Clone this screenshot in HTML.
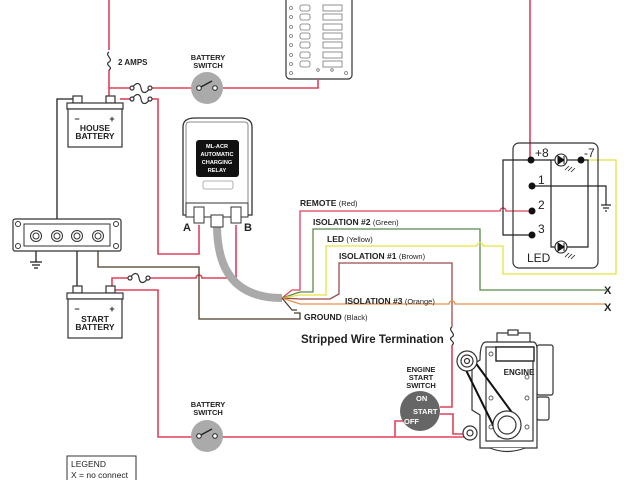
<!DOCTYPE html>
<html><head><meta charset="utf-8"><style>
html,body{margin:0;padding:0;background:#fff;width:640px;height:480px;overflow:hidden}
svg{display:block}
text{font-family:"Liberation Sans",Arial,sans-serif}
</style></head><body>
<svg width="640" height="480" viewBox="0 0 640 480" xmlns="http://www.w3.org/2000/svg">
<g fill="none" stroke-width="1.6">
<rect x="286" y="-6" width="66" height="85" rx="4" fill="#fff" stroke="#333" stroke-width="1.2"/>
<g stroke="#777" stroke-width="0.8">
<circle cx="291" cy="8" r="1.5"/><circle cx="291" cy="17" r="1.5"/><circle cx="291" cy="27" r="1.5"/><circle cx="291" cy="36" r="1.5"/><circle cx="291" cy="45" r="1.5"/><circle cx="291" cy="55" r="1.5"/><circle cx="291" cy="64" r="1.5"/><circle cx="291" cy="73" r="1.5"/>
<rect x="300" y="5" width="10" height="6" rx="2"/><rect x="300" y="14" width="10" height="6" rx="2"/><rect x="300" y="24" width="10" height="6" rx="2"/><rect x="300" y="33" width="10" height="6" rx="2"/><rect x="300" y="42" width="10" height="6" rx="2"/><rect x="300" y="52" width="10" height="6" rx="2"/><rect x="300" y="61" width="10" height="6" rx="2"/>
<rect x="323" y="5" width="19" height="6"/><rect x="323" y="14" width="19" height="6"/><rect x="323" y="24" width="19" height="6"/><rect x="323" y="33" width="19" height="6"/><rect x="323" y="42" width="19" height="6"/><rect x="323" y="52" width="19" height="6"/><rect x="323" y="61" width="19" height="6"/>
<circle cx="318" cy="70" r="1.3"/><circle cx="332" cy="70" r="1.3"/><circle cx="346" cy="73" r="1.5"/>
</g>
<g stroke="#e0405a">
<polyline points="109,0 109,50"/><polyline points="109,70 109,100"/>
<polyline points="109,88 132,88"/><polyline points="150,88 200,88"/>
<polyline points="215,88 318,88 318,79"/>
<polyline points="120,99 132,99"/><polyline points="150,99 158,99 158,254 199,254 199,225"/>
<polyline points="530,0 530,160"/>
<polyline points="112,290 112,278 128,278"/>
<path d="M148,278 H196 a3,3 0 0 1 6,0 H236 V225"/>
<polyline points="113,290 158,290 158,437 199,437"/><polyline points="215,437 470,437"/>
<polyline points="395,437 395,421 403,421"/>
<polyline points="440,414 453,414 453,434 468,434"/>
<polyline points="440,407 452,407 452,345"/>
</g>
<g stroke="#333" stroke-width="1.2">
<path d="M109,52 c-5,3 5,7 0,10 c-5,3 5,5 0,8"/>
<path d="M132,88 c4,-6 8,-6 9,0 c1,6 5,6 9,0"/><circle cx="132" cy="88" r="2" fill="#fff"/><circle cx="150" cy="88" r="2" fill="#fff"/>
<path d="M132,99 c4,-6 8,-6 9,0 c1,6 5,6 9,0"/><circle cx="132" cy="99" r="2" fill="#fff"/><circle cx="150" cy="99" r="2" fill="#fff"/>
<path d="M130,278 c4,-6 8,-6 9,0 c1,6 5,6 9,0"/><circle cx="130" cy="278" r="2" fill="#fff"/><circle cx="148" cy="278" r="2" fill="#fff"/>
<path d="M452,327 c-5,3 5,7 0,10 c-5,3 5,5 0,8"/>
</g>
<circle cx="207" cy="88" r="16" fill="#aaa" stroke="none"/>
<line x1="199" y1="88" x2="212" y2="81" stroke="#222" stroke-width="1.3"/>
<circle cx="199" cy="88" r="2.3" fill="#fff" stroke="#222" stroke-width="1"/><circle cx="215" cy="88" r="2.3" fill="#fff" stroke="#222" stroke-width="1"/>
<circle cx="207" cy="436" r="16" fill="#aaa" stroke="none"/>
<line x1="199" y1="436" x2="212" y2="429" stroke="#222" stroke-width="1.3"/>
<circle cx="199" cy="436" r="2.3" fill="#fff" stroke="#222" stroke-width="1"/><circle cx="215" cy="436" r="2.3" fill="#fff" stroke="#222" stroke-width="1"/>
<g stroke="#222" stroke-width="1.3">
<polyline points="75,99 57,99 57,236"/>
<polyline points="36,244 36,262"/>
<line x1="30" y1="262" x2="42" y2="262"/><line x1="32" y1="265" x2="40" y2="265"/><line x1="34" y1="268" x2="38" y2="268"/>
<polyline points="77,244 77,287"/>
</g>
<polyline points="98,244 98,267 199,267 199,319 300,319 300,313 294,313" stroke="#4a3a2a" stroke-width="1.3"/>
<g stroke="#333" stroke-width="1.2" fill="#fff">
<rect x="73" y="96" width="9" height="7"/><rect x="106" y="96" width="9" height="7"/>
<rect x="67" y="103" width="56" height="6"/><rect x="68" y="109" width="54" height="38"/>
<rect x="73" y="286" width="9" height="7"/><rect x="106" y="286" width="9" height="7"/>
<rect x="67" y="293" width="56" height="6"/><rect x="68" y="299" width="54" height="39"/>
</g>
<g fill="#222" font-weight="bold" font-size="8.5" text-anchor="middle" stroke="none">
<text x="77" y="122" font-size="9">−</text><text x="112" y="122" font-size="9">+</text>
<text x="95" y="131">HOUSE</text><text x="95" y="139">BATTERY</text>
<text x="77" y="312" font-size="9">−</text><text x="112" y="312" font-size="9">+</text>
<text x="95" y="322">START</text><text x="95" y="330">BATTERY</text>
</g>
<rect x="13" y="219" width="108" height="32" rx="2" fill="#fff" stroke="#333" stroke-width="1.2"/>
<rect x="24" y="224" width="86" height="22" fill="none" stroke="#333" stroke-width="1"/>
<g stroke="#333" stroke-width="1" fill="#fff">
<circle cx="18" cy="224" r="2.5"/><circle cx="116" cy="224" r="2.5"/><circle cx="18" cy="246" r="2.5"/><circle cx="116" cy="246" r="2.5"/>
<circle cx="36" cy="236" r="5.5"/><circle cx="57" cy="236" r="5.5"/><circle cx="77" cy="236" r="5.5"/><circle cx="98" cy="236" r="5.5"/>
<circle cx="36" cy="236" r="3"/><circle cx="57" cy="236" r="3"/><circle cx="77" cy="236" r="3"/><circle cx="98" cy="236" r="3"/>
</g>
<path d="M217,225 C217,270 235,298 282,298" stroke="#aaa" stroke-width="8"/>
<path d="M183,127 Q183,118 195,118 L240,118 Q252,118 252,127 L252,215 L183,215 Z" fill="#fff" stroke="#333" stroke-width="1.3"/>
<rect x="186" y="122" width="62" height="88" rx="3" stroke="#666" stroke-width="0.8"/>
<rect x="196" y="140" width="43" height="37" rx="3" fill="#111" stroke="none"/>
<rect x="203" y="181" width="30" height="8" rx="2" stroke="#999" stroke-width="0.8"/>
<rect x="186" y="203" width="62" height="14" fill="#fff" stroke="#333" stroke-width="1"/>
<rect x="194" y="207" width="10" height="16" fill="#fff" stroke="#333" stroke-width="1"/>
<rect x="231" y="207" width="10" height="16" fill="#fff" stroke="#333" stroke-width="1"/>
<rect x="211" y="215" width="12" height="12" fill="#fff" stroke="#333" stroke-width="1"/>
<g fill="#fff" font-weight="bold" font-size="5.6" text-anchor="middle">
<text x="217" y="148">ML-ACR</text><text x="217" y="156">AUTOMATIC</text><text x="217" y="164">CHARGING</text><text x="217" y="172">RELAY</text>
</g>
<text x="187" y="231" font-size="11" font-weight="bold" text-anchor="middle" fill="#222">A</text>
<text x="248" y="231" font-size="11" font-weight="bold" text-anchor="middle" fill="#222">B</text>
<path d="M282,298 L292,290 H300 V211 H500 a3,3 0 0 1 6,0 H532" stroke="#e0405a" stroke-width="1.3"/>
<path d="M282,298 L300,292 H313 V229 H480 V290 H606" stroke="#5a8a4a" stroke-width="1.3"/>
<path d="M282,298 L300,295 H326 V246 H477 a3,3 0 0 1 6,0 H503 V274 H616 V160 H586" stroke="#e8e040" stroke-width="1.3"/>
<path d="M282,298 L300,299 H330 L339,294 V263 H452 V327" stroke="#9a4a4a" stroke-width="1.3"/>
<path d="M282,298 L300,304 H449 a3,3 0 0 1 6,0 H606" stroke="#e8904a" stroke-width="1.3"/>
<path d="M282,298 L292,310 H297" stroke="#4a3a2a" stroke-width="1.2"/>
<text x="604" y="294" font-size="11" font-weight="bold" fill="#222" stroke="none">X</text>
<text x="604" y="311" font-size="11" font-weight="bold" fill="#222" stroke="none">X</text>
<rect x="513" y="143" width="85" height="125" rx="6" fill="none" stroke="#333" stroke-width="1.2"/>
<g stroke="#222" stroke-width="1.2">
<polyline points="531,160 503,160 503,235 532,235"/>
<polyline points="532,186 606,186 606,205"/>
<line x1="601" y1="205" x2="611" y2="205"/><line x1="603" y1="208" x2="609" y2="208"/><line x1="605" y1="211" x2="607" y2="211"/>
<polyline points="531,160 555,160"/><polyline points="567,160 581,160"/>
<polyline points="551,160 551,247 555,247"/><polyline points="567,247 588,247 588,160 581,160"/>
</g>
<g fill="#111"><circle cx="531" cy="160" r="3.5"/><circle cx="581" cy="160" r="3.5"/><circle cx="532" cy="186" r="3.5"/><circle cx="532" cy="211" r="3.5"/><circle cx="532" cy="235" r="3.5"/></g>
<g stroke="#222" stroke-width="1.1" fill="#fff">
<circle cx="561" cy="160" r="6"/><circle cx="561" cy="247" r="6"/>
</g>
<path d="M558,156 L564,160 L558,164 Z M564,156 V164 M558,243 L564,247 L558,251 Z M564,243 V251" fill="#111" stroke="#111" stroke-width="1"/>
<g stroke="#222" stroke-width="0.8"><path d="M565,170 l4,-4 M568,171 l4,-4 M571,172 l4,-4 M565,257 l4,-4 M568,258 l4,-4 M571,259 l4,-4"/></g>
<g fill="#222" font-size="12">
<text x="535" y="157">+8</text><text x="584" y="157">-7</text>
<text x="538" y="184">1</text><text x="538" y="209">2</text><text x="538" y="233">3</text>
<text x="527" y="262">LED</text>
</g>
<circle cx="420" cy="411" r="20" fill="#666" stroke="none"/>
<g fill="#fff" font-weight="bold" font-size="7.5">
<text x="416" y="401">ON</text><text x="413" y="414">START</text><text x="404" y="424">OFF</text>
</g>
<g stroke="#333" stroke-width="1.2" fill="#fff">
<rect x="497" y="333" width="33" height="10"/>
<rect x="508" y="330" width="10" height="5"/>
<rect x="537" y="345" width="16" height="50" rx="2"/>
<rect x="537" y="397" width="12" height="23" rx="2"/>
<path d="M472,365 L480,360 Q480,342 486,342 L533,342 Q537,342 537,350 L537,448 L480,448 L480,415 L472,410 Z"/>
<rect x="486" y="347" width="47" height="94"/>
<rect x="496" y="347" width="38" height="14" stroke="#222" stroke-width="1.4"/>
<path d="M490,448 Q507,455 525,448"/>
</g>
<g fill="#fff" stroke="#555" stroke-width="0.9"><circle cx="491" cy="354" r="2"/><circle cx="527" cy="398" r="2"/><circle cx="491" cy="398" r="2"/><circle cx="491" cy="427" r="2"/><circle cx="527" cy="427" r="2"/><circle cx="527" cy="377" r="2"/></g>
<line x1="462" y1="362" x2="499" y2="437" stroke="#111" stroke-width="2"/>
<line x1="472" y1="358" x2="516" y2="418" stroke="#111" stroke-width="2"/>
<g stroke="#333" stroke-width="1.2" fill="#fff">
<circle cx="467" cy="361" r="10"/><circle cx="467" cy="361" r="6"/><circle cx="467" cy="361" r="2.5"/>
<circle cx="507" cy="425" r="14"/><circle cx="507" cy="425" r="9"/>
<circle cx="470" cy="433" r="7"/><circle cx="470" cy="433" r="3"/>
</g>
<text x="519" y="375" font-size="8" font-weight="bold" text-anchor="middle" fill="#222">ENGINE</text>
<rect x="67" y="456" width="69" height="30" fill="#fff" stroke="#333" stroke-width="1"/>
</g>
<g fill="#222" font-weight="bold" font-size="7.5" text-anchor="middle">
<text x="118" y="65" text-anchor="start" font-size="8">2 AMPS</text>
<text x="208" y="60">BATTERY</text><text x="208" y="68">SWITCH</text>
<text x="208" y="407">BATTERY</text><text x="208" y="415">SWITCH</text>
<text x="421" y="372">ENGINE</text><text x="421" y="380">START</text><text x="421" y="388">SWITCH</text>
</g>
<g fill="#222" font-size="8.5">
<text x="300" y="206"><tspan font-weight="bold">REMOTE</tspan> <tspan font-size="7.5">(Red)</tspan></text>
<text x="313" y="225"><tspan font-weight="bold">ISOLATION #2</tspan> <tspan font-size="7.5">(Green)</tspan></text>
<text x="327" y="242"><tspan font-weight="bold">LED</tspan> <tspan font-size="7.5">(Yellow)</tspan></text>
<text x="339" y="259"><tspan font-weight="bold">ISOLATION #1</tspan> <tspan font-size="7.5">(Brown)</tspan></text>
<text x="345" y="304"><tspan font-weight="bold">ISOLATION #3</tspan> <tspan font-size="7.5">(Orange)</tspan></text>
<text x="304" y="320"><tspan font-weight="bold">GROUND</tspan> <tspan font-size="7.5">(Black)</tspan></text>
<text x="301" y="343" font-size="11.5" font-weight="bold">Stripped Wire Termination</text>
<text x="71" y="467" font-size="8.5">LEGEND</text>
<text x="71" y="478" font-size="8.5">X = no connect</text>
</g>
</svg>
</body></html>
